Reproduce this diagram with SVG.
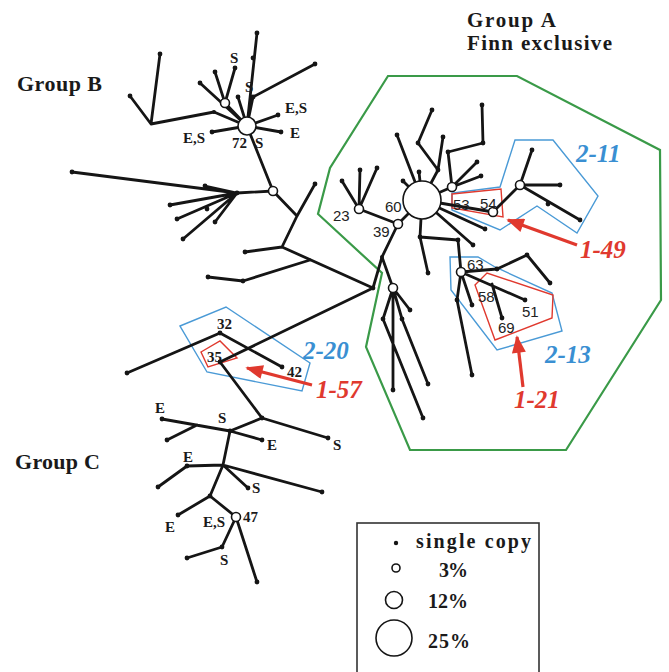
<svg xmlns="http://www.w3.org/2000/svg" width="669" height="672" viewBox="0 0 669 672">
<defs>
<style>
.e{stroke:#151515;stroke-width:2.8;fill:none;stroke-linecap:round;stroke-linejoin:round}
.d{fill:#151515}
.n{fill:#fff;stroke:#151515;stroke-width:1.6}
.t{font-family:"Liberation Serif",serif;font-weight:bold;fill:#1a1a1a}
.s{font-family:"Liberation Serif",serif;font-weight:bold;font-size:15px;fill:#1a1a1a}
.a{font-family:"Liberation Sans",Arial,sans-serif;font-size:15px;fill:#222}
.c{font-family:"Liberation Serif",serif;font-style:italic;font-weight:bold;font-size:25px}
.blue{fill:#3a8fd2}
.red{fill:#e0392e}
.pb{fill:none;stroke:#4a9ad6;stroke-width:1.4}
.pr{fill:none;stroke:#e0392e;stroke-width:1.4}
.pg{fill:none;stroke:#3a9a48;stroke-width:2.2}
.ar{stroke:#e0392e;stroke-width:3.2;fill:none}
</style>
<marker id="ah" viewBox="0 0 10 8" refX="9" refY="4" markerWidth="20" markerHeight="14" markerUnits="userSpaceOnUse" orient="auto">
<path d="M0,0 L10,4 L0,8 z" fill="#e0392e"/>
</marker>
</defs>
<rect width="669" height="672" fill="#fff"/>

<g id="outlines">
<polygon class="pg" points="388,76 517,76 660,150 661,300 566,450 410,450 366,347 382,273 318,214 330,168"/>
<polygon class="pb" points="515,140 553,140 598,196 577,233 537,206 500,230 452,210 452,193 500,187"/>
<polygon class="pr" points="452,194 501,189 503,217 452,208"/>
<polygon class="pb" points="450,257 478,257 495,267 552,293 562,331 497,350 451,290"/>
<polygon class="pr" points="475,285 487,273 553,295 552,318 495,340"/>
<polygon class="pb" points="180,326 226,307 310,363 302,391 207,372"/>
<polygon class="pr" points="201,352 220,341 237,358 208,367"/>
</g>

<g id="connectors">
<!-- Group B -->
<path class="e" d="M160,54 L151,124 L130,96 M151,124 L214,112 L247,126"/>
<path class="e" d="M200,83 L247,126"/>
<path class="e" d="M215,72 L225,103 L235,68 M225,103 L247,126"/>
<path class="e" d="M247,126 L257,33 M247,126 L238,97 M247,126 L253,97 L315,64"/>
<path class="e" d="M247,126 L278,115 M247,126 L281,132 M247,126 L212,132"/>
<path class="e" d="M247,126 L273,191 L237,193"/>
<path class="e" d="M237,193 L72,172 M237,193 L205,186 M237,193 L170,205 M237,193 L177,219 M237,193 L183,239 M237,193 L215,222"/>
<path class="e" d="M273,191 L297,216 L315,184 M297,216 L282,247 L245,252 M282,247 L373,288"/>
<path class="e" d="M310,260 L243,281 L208,277"/>
<path class="e" d="M373,288 L382,257 L398,224 M382,257 L393,288"/>
<!-- Group C -->
<path class="e" d="M373,288 L220,362 L262,418 L328,438 M262,418 L230,431"/>
<path class="e" d="M127,373 L220,333 L282,367"/>
<path class="e" d="M162,419 L230,431 L262,440 M197,425 L167,440"/>
<path class="e" d="M230,431 L223,465 L187,466 L158,487 M223,465 L322,492 M223,465 L248,488 M223,465 L210,496 L178,515 M210,496 L236,517"/>
<path class="e" d="M236,517 L222,547 L187,558 M236,517 L257,582"/>
<!-- Group A -->
<path class="e" d="M342,181 L359,209 L360,170 M359,209 L377,168 M359,209 L398,224 L422,200"/>
<path class="e" d="M422,200 L397,135 M422,200 L438,170 L418,143 L432,110 M438,170 L443,137 M422,200 L403,181 M422,200 L419,172"/>
<path class="e" d="M422,200 L452,187 L448,152 L483,143 L482,105 M452,187 L477,162 M452,187 L481,176"/>
<path class="e" d="M422,200 L493,212 L520,185 L532,150 M520,185 L560,185 M520,185 L580,220"/>
<path class="e" d="M422,200 L485,229 M422,200 L473,245"/>
<path class="e" d="M422,200 L420,237 L428,273 M420,237 L458,240 L461,272"/>
<path class="e" d="M461,272 L497,269 L527,255 L550,283 M461,272 L525,300 M492,284 L502,318 M461,272 L472,305 M461,272 L457,300 L472,375"/>
<path class="e" d="M393,288 L410,310 M393,288 L383,319 L423,418 M393,288 L393,390 M393,288 L402,319 L428,384"/>
<!-- arrows -->
<line class="ar" x1="577" y1="245" x2="508" y2="220" marker-end="url(#ah)"/>
<line class="ar" x1="523" y1="387" x2="517" y2="337" marker-end="url(#ah)"/>
<line class="ar" x1="312" y1="385" x2="247" y2="368" marker-end="url(#ah)"/>
</g>

<g id="tips">
<circle class="d" cx="160" cy="54" r="2.4"/><circle class="d" cx="130" cy="96" r="2.4"/><circle class="d" cx="214" cy="112" r="2"/>
<circle class="d" cx="200" cy="83" r="2.4"/><circle class="d" cx="215" cy="72" r="2.4"/><circle class="d" cx="235" cy="68" r="2.4"/>
<circle class="d" cx="257" cy="33" r="2.4"/><circle class="d" cx="253" cy="58" r="2.4"/><circle class="d" cx="238" cy="97" r="2.4"/>
<circle class="d" cx="253" cy="97" r="2.4"/><circle class="d" cx="315" cy="64" r="2.4"/><circle class="d" cx="278" cy="115" r="2.4"/>
<circle class="d" cx="281" cy="132" r="2.4"/><circle class="d" cx="212" cy="132" r="2.4"/>
<circle class="d" cx="237" cy="193" r="2.4"/><circle class="d" cx="72" cy="172" r="2.4"/><circle class="d" cx="205" cy="186" r="2.4"/>
<circle class="d" cx="170" cy="205" r="2.4"/><circle class="d" cx="177" cy="219" r="2.4"/><circle class="d" cx="207" cy="209" r="2.4"/>
<circle class="d" cx="183" cy="239" r="2.4"/><circle class="d" cx="215" cy="222" r="2.4"/>
<circle class="d" cx="315" cy="184" r="2.4"/><circle class="d" cx="245" cy="252" r="2.4"/><circle class="d" cx="243" cy="281" r="2.4"/>
<circle class="d" cx="208" cy="277" r="2.4"/><circle class="d" cx="373" cy="288" r="2.4"/>
<circle class="d" cx="127" cy="373" r="2.4"/><circle class="d" cx="220" cy="333" r="2.4"/><circle class="d" cx="282" cy="367" r="2.4"/>
<circle class="d" cx="220" cy="362" r="2.4"/><circle class="d" cx="262" cy="418" r="2.4"/><circle class="d" cx="328" cy="438" r="2.4"/>
<circle class="d" cx="162" cy="419" r="2.4"/><circle class="d" cx="262" cy="440" r="2.4"/><circle class="d" cx="167" cy="440" r="2.4"/>
<circle class="d" cx="230" cy="431" r="2.4"/><circle class="d" cx="187" cy="466" r="2.4"/><circle class="d" cx="158" cy="487" r="2.4"/>
<circle class="d" cx="322" cy="492" r="2.4"/><circle class="d" cx="248" cy="488" r="2.4"/><circle class="d" cx="210" cy="496" r="2.4"/>
<circle class="d" cx="178" cy="515" r="2.4"/><circle class="d" cx="222" cy="547" r="2.4"/><circle class="d" cx="187" cy="558" r="2.4"/>
<circle class="d" cx="257" cy="582" r="2.4"/>
<circle class="d" cx="342" cy="181" r="2.4"/><circle class="d" cx="360" cy="170" r="2.4"/><circle class="d" cx="377" cy="168" r="2.4"/>
<circle class="d" cx="397" cy="135" r="2.4"/><circle class="d" cx="418" cy="143" r="2.4"/><circle class="d" cx="432" cy="110" r="2.4"/>
<circle class="d" cx="443" cy="137" r="2.4"/><circle class="d" cx="438" cy="170" r="2.4"/><circle class="d" cx="403" cy="181" r="2.4"/>
<circle class="d" cx="419" cy="172" r="2.4"/><circle class="d" cx="448" cy="152" r="2.4"/><circle class="d" cx="483" cy="143" r="2.4"/>
<circle class="d" cx="482" cy="105" r="2.4"/><circle class="d" cx="477" cy="162" r="2.4"/><circle class="d" cx="481" cy="176" r="2.4"/>
<circle class="d" cx="532" cy="150" r="2.4"/><circle class="d" cx="560" cy="185" r="2.4"/><circle class="d" cx="548" cy="204" r="2.4"/>
<circle class="d" cx="580" cy="220" r="2.4"/><circle class="d" cx="485" cy="229" r="2.4"/><circle class="d" cx="473" cy="245" r="2.4"/>
<circle class="d" cx="420" cy="237" r="2.4"/><circle class="d" cx="428" cy="273" r="2.4"/><circle class="d" cx="458" cy="240" r="2.4"/>
<circle class="d" cx="497" cy="269" r="2.4"/><circle class="d" cx="527" cy="255" r="2.4"/><circle class="d" cx="550" cy="283" r="2.4"/>
<circle class="d" cx="525" cy="300" r="2.4"/><circle class="d" cx="502" cy="318" r="2.4"/><circle class="d" cx="472" cy="305" r="2.4"/>
<circle class="d" cx="457" cy="300" r="2.4"/><circle class="d" cx="472" cy="375" r="2.4"/>
<circle class="d" cx="410" cy="310" r="2.4"/><circle class="d" cx="383" cy="319" r="2.4"/><circle class="d" cx="423" cy="418" r="2.4"/>
<circle class="d" cx="393" cy="390" r="2.4"/><circle class="d" cx="402" cy="319" r="2.4"/><circle class="d" cx="428" cy="384" r="2.4"/>
<circle class="d" cx="382" cy="257" r="2"/>
</g>

<g id="node-72"><circle class="n" cx="247" cy="126" r="9"/><text class="s" x="232" y="148">72</text></g>
<g id="node-b1"><circle class="n" cx="225" cy="103" r="4.5"/></g>
<g id="node-b2"><circle class="n" cx="273" cy="191" r="4.5"/></g>
<g id="node-60"><circle class="n" cx="422" cy="200" r="19"/><text class="a" x="385" y="212">60</text></g>
<g id="node-39"><circle class="n" cx="398" cy="224" r="4.5"/><text class="a" x="373" y="237">39</text></g>
<g id="node-23"><circle class="n" cx="359" cy="209" r="4.5"/><text class="a" x="333" y="221">23</text></g>
<g id="node-a1"><circle class="n" cx="452" cy="187" r="4.5"/></g>
<g id="node-54"><circle class="n" cx="493" cy="212" r="4.5"/><text class="a" x="453" y="210">53</text><text class="a" x="480" y="209">54</text></g>
<g id="node-a2"><circle class="n" cx="520" cy="185" r="4.5"/></g>
<g id="node-63"><circle class="n" cx="461" cy="272" r="4.5"/><text class="a" x="467" y="270">63</text></g>
<g id="node-58"><text class="a" x="478" y="302">58</text><text class="a" x="522" y="317">51</text><text class="a" x="498" y="333">69</text></g>
<g id="node-a3"><circle class="n" cx="393" cy="288" r="4.5"/></g>
<g id="node-32"><text class="s" x="217" y="329">32</text><text class="s" x="207" y="362">35</text><text class="s" x="287" y="377">42</text></g>
<g id="node-47"><circle class="n" cx="236" cy="517" r="4.5"/><text class="s" x="243" y="522">47</text></g>

<g id="labels">
<text class="s" x="230" y="63">S</text>
<text class="s" x="245" y="92">S</text>
<text class="s" x="285" y="113">E,S</text>
<text class="s" x="290" y="138">E</text>
<text class="s" x="183" y="143">E,S</text>
<text class="s" x="255" y="148">S</text>
<text class="s" x="155" y="413">E</text>
<text class="s" x="218" y="423">S</text>
<text class="s" x="267" y="450">E</text>
<text class="s" x="333" y="450">S</text>
<text class="s" x="183" y="462">E</text>
<text class="s" x="252" y="493">S</text>
<text class="s" x="165" y="532">E</text>
<text class="s" x="203" y="527">E,S</text>
<text class="s" x="220" y="565">S</text>
<text class="t" x="17" y="91" font-size="22" textLength="85">Group B</text>
<text class="t" x="15" y="469" font-size="22" textLength="85">Group C</text>
<text class="t" x="467" y="27" font-size="21" textLength="89">Group A</text>
<text class="t" x="467" y="50" font-size="21" textLength="145">Finn exclusive</text>
<text class="c blue" x="576" y="162">2-11</text>
<text class="c red" x="580" y="258">1-49</text>
<text class="c blue" x="545" y="363">2-13</text>
<text class="c red" x="514" y="408">1-21</text>
<text class="c blue" x="303" y="359">2-20</text>
<text class="c red" x="316" y="398">1-57</text>
</g>

<g id="legend">
<rect x="357" y="523" width="182" height="170" fill="none" stroke="#333" stroke-width="1.6"/>
<circle class="d" cx="396" cy="543" r="2.2"/>
<text class="t" x="416" y="548" font-size="20" textLength="115">single copy</text>
<circle class="n" cx="396" cy="568" r="4"/>
<text class="t" x="439" y="577" font-size="20" textLength="29">3%</text>
<circle class="n" cx="394" cy="600" r="8.5"/>
<text class="t" x="428" y="608" font-size="20" textLength="40">12%</text>
<circle class="n" cx="394" cy="638" r="18"/>
<text class="t" x="428" y="648" font-size="20" textLength="42">25%</text>
</g>
</svg>
